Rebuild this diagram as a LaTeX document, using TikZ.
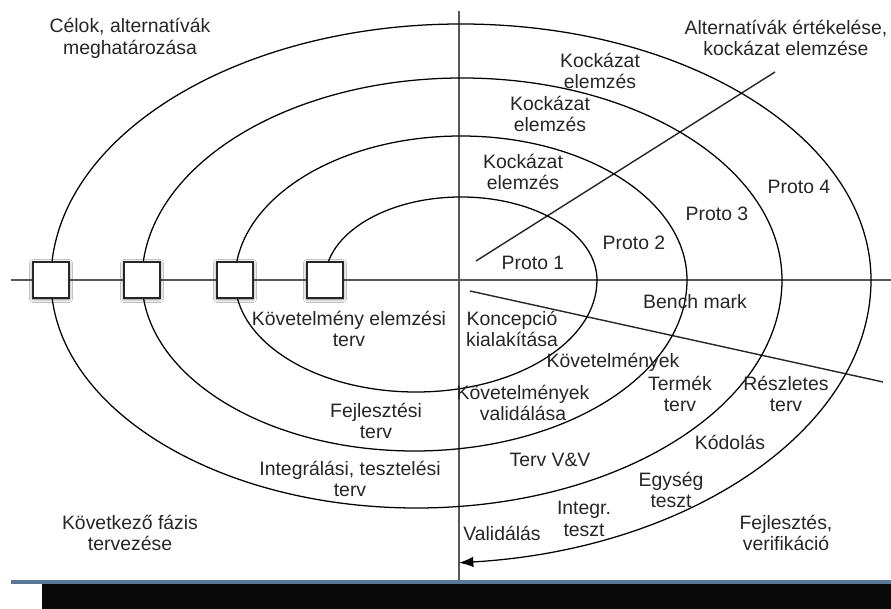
\documentclass[tikz,border=0pt]{standalone}
\usepackage{fontspec}
\setmainfont{Liberation Sans}
\usepackage{xcolor}
\usepackage{tikz}
\usetikzlibrary{arrows.meta, shadows.blur}

\definecolor{footline}{HTML}{5A7897}

\begin{document}
\begin{tikzpicture}[x=0.025cm, y=0.025cm,
  lbl/.style={align=center, text=black!85, inner sep=0pt,
              font=\fontsize{13.8}{15.5}\selectfont},
  gate/.style={rectangle, draw=black!85, thick, fill=white,
               minimum size=0.9cm, inner sep=0pt,
               blur shadow={shadow xshift=0pt, shadow yshift=-0.8pt,
                            shadow blur radius=2.5pt, shadow opacity=55}},
  axis/.style={draw=black!65, line width=1.2pt},
  spiral/.style={draw=black, line width=0.9pt},
  cut/.style={draw=black!85, line width=1pt}]

\useasboundingbox[fill=white] (-459,280) rectangle (432,-329);

% Axes
\coordinate (axW) at (-448,0);
\coordinate (axE) at (432,0);
\coordinate (axN) at (0,269);
\coordinate (axS) at (0,-300);
\draw[axis] (axW) -- (axE);
\draw[axis] (axN) -- (axS);

% Quadrant separators
\coordinate (riskA) at (17,19);
\coordinate (riskB) at (316,208);
\coordinate (devA) at (11,-11);
\coordinate (devB) at (424,-102);
\draw[cut] (riskA) -- (riskB);
\draw[cut] (devA) -- (devB);

% Spiral
\coordinate (p1) at (-408,0);
\coordinate (p2) at (-317,0);
\coordinate (p3) at (-224,0);
\coordinate (p4) at (-134,0);
\draw[spiral, -{Latex[length=3.6mm, width=2.6mm]}] (p4)
  arc (180:0:136 and 83)
  arc (0:-180:181 and 112)
  arc (180:0:226 and 144)
  arc (0:-180:272.5 and 171)
  arc (180:0:320 and 202)
  arc (0:-180:365.5 and 228)
  arc (180:0:410 and 256)
  arc (0:-84.7:454 and 284);

% Phase gates
\node[gate] (g1) at (p1) {};
\node[gate] (g2) at (p2) {};
\node[gate] (g3) at (p3) {};
\node[gate] (g4) at (p4) {};

% Quadrant titles
\node[lbl] (goals) at (-329,242) {Célok, alternatívák\\meghatározása};
\node[lbl] (evalq) at (327,242) {Alternatívák értékelése,\\kockázat elemzése};
\node[lbl] (nextq) at (-329,-253) {Következő fázis\\tervezése};
\node[lbl] (devq) at (327,-253) {Fejlesztés,\\verifikáció};

% Risk quadrant
\node[lbl] (risk4) at (141,209) {Kockázat\\elemzés};
\node[lbl] (risk3) at (91,166) {Kockázat\\elemzés};
\node[lbl] (risk2) at (64,108) {Kockázat\\elemzés};
\node[lbl] (proto1) at (74,17) {Proto 1};
\node[lbl] (proto2) at (175,37) {Proto 2};
\node[lbl] (proto3) at (258,66) {Proto 3};
\node[lbl] (proto4) at (340,93) {Proto 4};

% Development quadrant
\node[lbl] (bench) at (236,-22) {Bench mark};
\node[lbl] (concept) at (53,-49) {Koncepció\\kialakítása};
\node[lbl] (reqs) at (154,-82) {Követelmények};
\node[lbl] (reqval) at (64,-123) {Követelmények\\validálása};
\node[lbl] (prodplan) at (221,-114) {Termék\\terv};
\node[lbl] (detplan) at (327,-114) {Részletes\\terv};
\node[lbl] (coding) at (271,-162) {Kódolás};
\node[lbl] (vv) at (91,-180) {Terv V\&V};
\node[lbl] (unit) at (212,-210) {Egység\\teszt};
\node[lbl] (integ) at (125,-239) {Integr.\\teszt};
\node[lbl] (valid) at (43,-253) {Validálás};

% Planning quadrant
\node[lbl] (reqplan) at (-110,-49) {Követelmény elemzési\\terv};
\node[lbl] (devplan) at (-83,-141) {Fejlesztési\\terv};
\node[lbl] (testplan) at (-109,-199) {Integrálási, tesztelési\\terv};

% Slide footer
\fill[footline] (-448,-300) rectangle (432,-304);
\fill[black!96] (-417,-304) rectangle (432,-329);

\end{tikzpicture}
\end{document}
